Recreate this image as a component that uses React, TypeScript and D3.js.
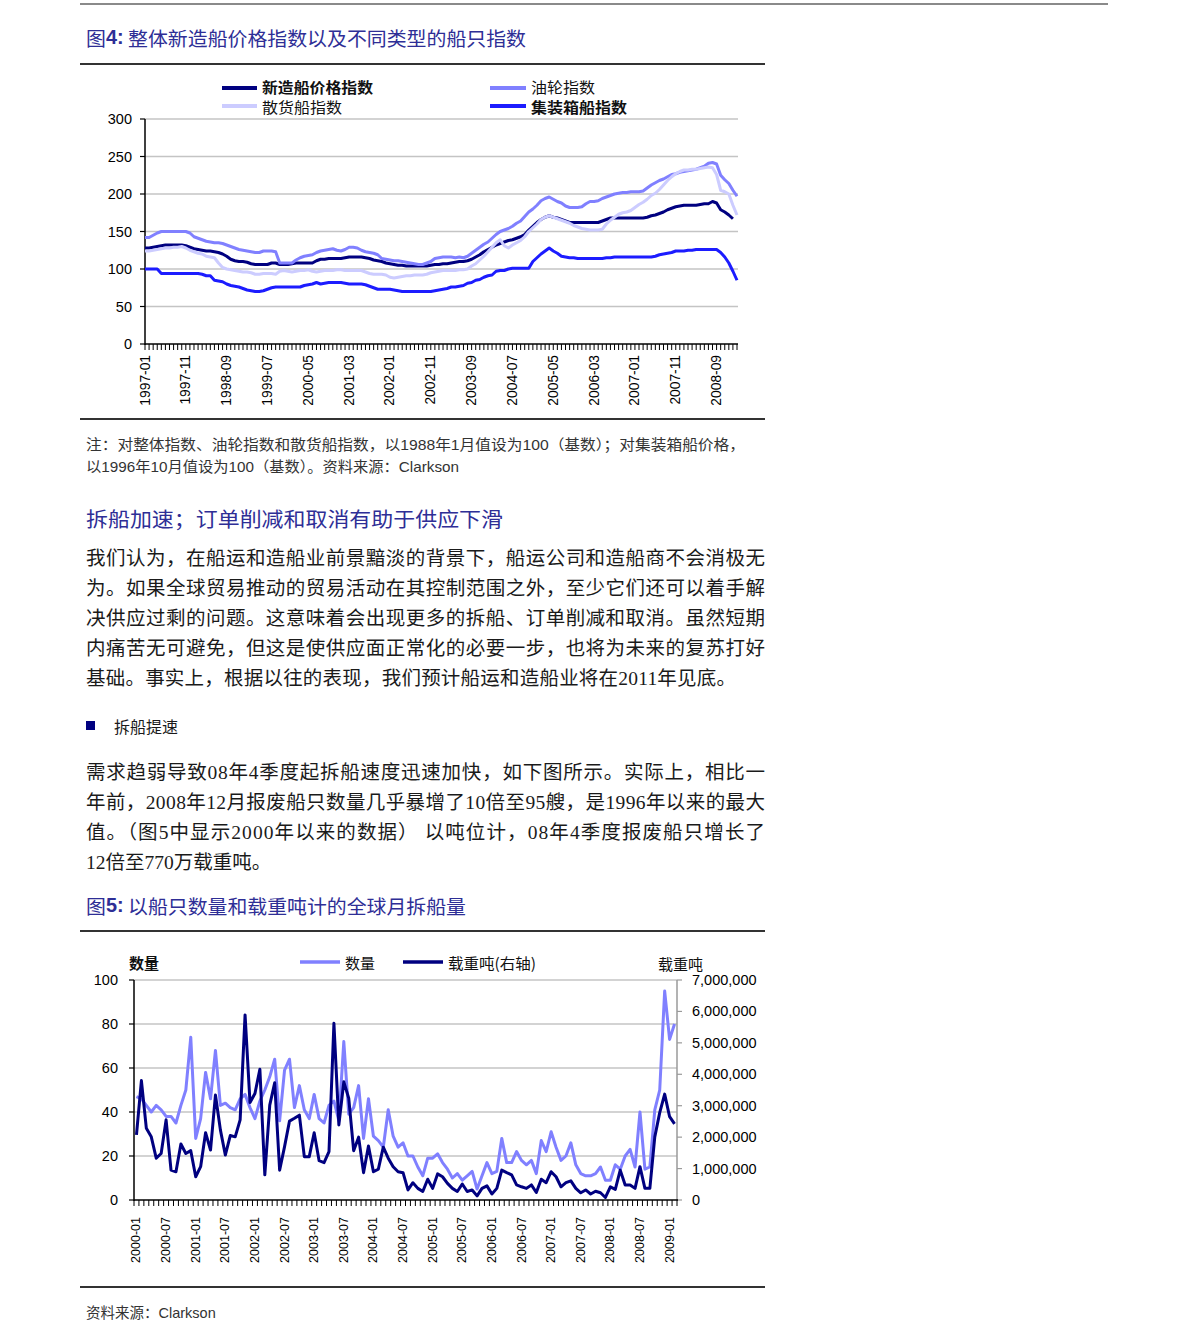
import React from 'react';
import * as d3 from 'd3';

// ---------- categories ----------
function monthSeq(y0: number, m0: number, n: number): string[] {
  const out: string[] = [];
  let y = y0, m = m0;
  for (let i = 0; i < n; i++) {
    out.push(`${y}-${String(m).padStart(2, '0')}`);
    m++; if (m > 12) { m = 1; y++; }
  }
  return out;
}
const months1 = monthSeq(1997, 1, 146); // 1997-01 .. 2009-02
const months2 = monthSeq(2000, 1, 110); // 2000-01 .. 2009-02

const chart1TickLabels = ['1997-01','1997-11','1998-09','1999-07','2000-05','2001-03','2002-01','2002-11','2003-09','2004-07','2005-05','2006-03','2007-01','2007-11','2008-09'];
const chart2TickLabels = ['2000-01','2000-07','2001-01','2001-07','2002-01','2002-07','2003-01','2003-07','2004-01','2004-07','2005-01','2005-07','2006-01','2006-07','2007-01','2007-07','2008-01','2008-07','2009-01'];
const chart1YTicks = [0, 50, 100, 150, 200, 250, 300];
const chart2LeftTicks = [0, 20, 40, 60, 80, 100];
const chart2RightTicks = [0, 1, 2, 3, 4, 5, 6, 7]; // millions

// ---------- chart 1 series (monthly, 1997-01 .. 2009-02) ----------
const newbuildIndex: (number | null)[] = [
  128,128,129,130,131,132,132,132,132,132,131,129,
  127,126,125,124,124,123,122,120,117,113,111,110,
  110,109,107,106,106,106,106,108,108,106,106,106,
  107,108,108,108,108,108,111,113,113,114,114,114,
  114,115,116,116,116,116,115,114,112,111,110,108,
  107,106,105,105,104,104,104,104,104,104,105,106,
  106,107,107,108,109,110,110,111,113,116,119,123,
  126,129,132,134,136,138,139,141,143,146,152,157,
  162,166,169,171,169,168,166,164,162,162,162,162,
  162,162,162,162,164,166,168,168,168,168,168,168,
  168,168,168,169,171,172,174,176,179,181,183,184,
  185,185,185,185,186,187,187,190,188,179,176,172,
  167,null,
];
const tankerIndex: number[] = [
  142,142,145,148,150,150,150,150,150,150,150,148,
  143,141,139,137,136,135,135,134,132,130,128,126,
  125,124,123,122,122,124,124,124,123,108,108,108,
  108,112,115,117,118,119,122,124,125,126,127,125,
  124,126,129,129,128,125,123,122,121,119,114,113,
  112,111,111,110,109,108,107,106,106,108,110,114,
  115,116,116,116,115,116,115,117,121,125,129,133,
  136,141,146,150,152,154,157,161,164,170,176,180,
  185,191,194,196,193,190,188,184,182,182,182,183,
  187,190,190,191,194,196,198,200,201,202,202,203,
  203,203,204,208,212,215,218,220,223,226,227,229,
  230,231,232,233,235,237,241,242,240,225,219,214,
  205,197,
];
const bulkIndex: number[] = [
  124,124,125,126,127,128,128,129,129,130,128,125,
  123,121,120,117,116,115,108,102,100,99,98,97,
  96,96,95,93,93,94,94,94,93,97,98,97,
  96,97,98,98,99,97,96,97,98,98,98,99,
  99,98,98,98,98,98,96,94,93,93,93,92,
  89,88,89,90,91,91,92,92,92,93,95,96,
  97,98,98,98,98,99,99,100,104,107,112,117,
  123,129,135,139,131,128,132,135,138,143,150,155,
  160,166,169,171,169,167,165,163,161,158,156,154,
  153,152,152,152,153,160,165,169,173,175,176,178,
  182,186,189,193,198,201,206,212,218,223,227,230,
  232,232,233,233,234,235,236,235,226,205,203,200,
  185,172,
];
const containerIndex: number[] = [
  100,100,100,100,94,94,94,94,94,94,94,94,
  94,94,93,91,91,85,84,83,80,78,77,76,
  74,72,71,70,70,71,73,75,76,76,76,76,
  76,76,76,78,79,80,82,80,81,82,82,82,
  82,81,80,80,80,80,79,77,75,73,73,73,
  73,72,71,70,70,70,70,70,70,70,70,71,
  72,73,74,76,76,77,78,81,82,85,86,89,
  91,92,97,98,98,100,101,101,101,101,101,110,
  115,120,124,128,124,121,117,116,115,115,114,114,
  114,114,114,114,114,115,115,116,116,116,116,116,
  116,116,116,116,116,117,119,120,121,122,124,124,
  124,125,125,126,126,126,126,126,126,122,116,108,
  97,85,
];

// ---------- chart 2 series (monthly, 2000-01 .. 2009-02) ----------
const scrapCount: number[] = [
  47,46,43,40,43,41,38,38,35,43,50,74,
  28,37,58,46,68,43,44,42,41,46,48,42,
  37,45,50,56,64,36,59,64,42,52,41,37,
  48,37,35,43,45,36,72,39,42,52,28,46,
  29,27,24,41,29,24,26,20,20,15,11,19,
  19,21,17,14,10,12,9,11,13,5,11,17,
  12,13,28,17,17,22,18,16,18,12,27,22,
  31,24,18,20,26,16,12,11,11,12,15,9,
  9,16,14,20,23,15,40,14,15,41,50,95,
  73,80,
];
const scrapDwtMillions: number[] = [
  2.07,3.80,2.28,2.01,1.33,1.48,2.55,0.95,0.90,1.78,1.48,1.57,
  0.74,1.06,2.14,1.59,3.34,2.23,1.43,2.05,2.01,2.55,5.89,3.10,
  3.39,4.16,0.80,3.02,3.73,0.95,1.70,2.51,2.60,2.70,1.38,1.38,
  2.14,1.25,1.19,1.54,5.62,2.39,3.76,3.24,1.57,2.00,0.87,1.72,
  0.90,0.98,1.68,1.33,1.06,0.90,0.87,0.32,0.55,0.37,0.27,0.66,
  0.37,0.83,0.74,0.53,0.37,0.27,0.51,0.27,0.32,0.13,0.37,0.45,
  0.19,0.37,0.95,0.87,0.80,0.48,0.42,0.37,0.48,0.24,0.66,0.55,
  0.90,0.74,0.42,0.55,0.61,0.37,0.23,0.32,0.19,0.28,0.23,0.08,
  0.42,0.34,0.95,0.48,0.48,0.37,1.06,0.37,0.37,2.01,2.78,3.37,
  2.65,2.42,
];

// ---------- text ----------
const para1 = [
  '我们认为，在船运和造船业前景黯淡的背景下，船运公司和造船商不会消极无',
  '为。如果全球贸易推动的贸易活动在其控制范围之外，至少它们还可以着手解',
  '决供应过剩的问题。这意味着会出现更多的拆船、订单削减和取消。虽然短期',
  '内痛苦无可避免，但这是使供应面正常化的必要一步，也将为未来的复苏打好',
  '基础。事实上，根据以往的表现，我们预计船运和造船业将在2011年见底。',
];
const para2 = [
  '需求趋弱导致08年4季度起拆船速度迅速加快，如下图所示。实际上，相比一',
  '年前，2008年12月报废船只数量几乎暴增了10倍至95艘，是1996年以来的最大',
  '值。（图5中显示2000年以来的数据） 以吨位计，08年4季度报废船只增长了',
  '12倍至770万载重吨。',
];

const CJK = "'Noto Sans CJK SC', sans-serif";
const NARROW = "'Liberation Sans Narrow', 'Liberation Sans', 'Noto Sans CJK SC', sans-serif";
const SANS = "'Liberation Sans', Arial, sans-serif";
const SERIF = "'Liberation Serif', 'Noto Sans CJK SC', serif";
const TITLE_BLUE = '#2e2e96';

const C_NEW = '#000080';
const C_TANK = '#8080ff';
const C_BULK = '#ccccff';
const C_CONT = '#1c1cff';

export default function App() {
  // chart 1 scales
  const x1 = d3.scalePoint<number>().domain(d3.range(months1.length)).range([145, 737]);
  const y1 = d3.scaleLinear().domain([0, 300]).range([344, 119]);
  const line1 = d3.line<number | null>()
    .defined((d) => d != null)
    .x((_, i) => x1(i) as number)
    .y((d) => y1(d as number));

  // chart 2 scales
  const x2 = d3.scaleBand<number>().domain(d3.range(months2.length)).range([134, 677]);
  const cx2 = (i: number) => (x2(i) as number) + x2.bandwidth() / 2;
  const yL = d3.scaleLinear().domain([0, 100]).range([1200, 980]);
  const yR = d3.scaleLinear().domain([0, 7]).range([1200, 980]);
  const lineCount = d3.line<number>().x((_, i) => cx2(i)).y((d) => yL(d));
  const lineDwt = d3.line<number>().x((_, i) => cx2(i)).y((d) => yR(d));
  const fmt = d3.format(',');

  const series1 = [
    { data: newbuildIndex, color: C_NEW },
    { data: tankerIndex, color: C_TANK },
    { data: bulkIndex, color: C_BULK },
    { data: containerIndex, color: C_CONT },
  ];

  return (
    <svg width={1191} height={1342} style={{ position: 'absolute', left: 0, top: 0, background: '#fff' }}
      xmlns="http://www.w3.org/2000/svg">
      <rect x={0} y={0} width={1191} height={1342} fill="#fff" />
      {/* top rule */}
      <line x1={80} x2={1108} y1={4} y2={4} stroke="#8a8a8a" strokeWidth={2} />

      {/* ---------- Figure 4 ---------- */}
      <text x={86} y={37} fontFamily={CJK} fontSize={19.5} fill={TITLE_BLUE} dominantBaseline="central"
        textLength={440} lengthAdjust="spacingAndGlyphs">
        图<tspan fontFamily={NARROW} fontWeight="bold">4:</tspan> 整体新造船价格指数以及不同类型的船只指数
      </text>
      <line x1={80} x2={765} y1={64} y2={64} stroke="#333" strokeWidth={2} />

      {/* legend */}
      <g fontFamily={CJK} fontSize={14.5} fill="#111">
        <line x1={222} x2={257} y1={88} y2={88} stroke={C_NEW} strokeWidth={4} />
        <text x={262} y={86} dominantBaseline="central" fontWeight="bold" textLength={111} lengthAdjust="spacingAndGlyphs">新造船价格指数</text>
        <line x1={222} x2={257} y1={106} y2={106} stroke={C_BULK} strokeWidth={4} />
        <text x={262} y={106} dominantBaseline="central" textLength={80} lengthAdjust="spacingAndGlyphs">散货船指数</text>
        <line x1={490} x2={526} y1={88} y2={88} stroke={C_TANK} strokeWidth={4} />
        <text x={531} y={86} dominantBaseline="central" textLength={64} lengthAdjust="spacingAndGlyphs">油轮指数</text>
        <line x1={490} x2={526} y1={106} y2={106} stroke={C_CONT} strokeWidth={4} />
        <text x={531} y={106} dominantBaseline="central" fontWeight="bold" textLength={96} lengthAdjust="spacingAndGlyphs">集装箱船指数</text>
      </g>

      {/* gridlines */}
      {chart1YTicks.filter((t) => t > 0).map((t) => (
        <line key={'g1' + t} x1={145} x2={738} y1={y1(t)} y2={y1(t)} stroke="#c4c4c4" strokeWidth={1.5} />
      ))}
      {/* y axis */}
      <line x1={145} x2={145} y1={119} y2={345} stroke="#000" strokeWidth={1.5} />
      {chart1YTicks.map((t) => (
        <g key={'yt1' + t}>
          <line x1={140} x2={145} y1={y1(t)} y2={y1(t)} stroke="#000" strokeWidth={1.2} />
          <text x={132} y={y1(t)} textAnchor="end" dominantBaseline="central" fontFamily={NARROW} fontSize={14.5} fill="#000">{t}</text>
        </g>
      ))}
      {/* x axis */}
      <line x1={145} x2={738} y1={344} y2={344} stroke="#000" strokeWidth={1.5} />
      {months1.map((m, i) => (
        <line key={'xt1' + m} x1={x1(i) as number} x2={x1(i) as number} y1={344} y2={350} stroke="#000" strokeWidth={1} />
      ))}
      {chart1TickLabels.map((lab) => {
        const xi = x1(months1.indexOf(lab)) as number;
        return (
          <text key={'xl1' + lab} transform={`translate(${xi},355) rotate(-90)`} textAnchor="end" dominantBaseline="central"
            fontFamily={SANS} fontSize={13.8} fill="#000">{lab}</text>
        );
      })}
      {/* lines */}
      {series1.map((s, k) => (
        <path key={'s1' + k} d={line1(s.data as (number | null)[]) || ''} fill="none" stroke={s.color} strokeWidth={3} strokeLinejoin="round" />
      ))}

      <line x1={80} x2={765} y1={419} y2={419} stroke="#333" strokeWidth={2} />
      <g fontFamily={NARROW} fontSize={14.5} fill="#333">
        <text x={86} y={445} dominantBaseline="central" textLength={659} lengthAdjust="spacingAndGlyphs">注：对整体指数、油轮指数和散货船指数，以1988年1月值设为100（基数）；对集装箱船价格，</text>
        <text x={86} y={467} dominantBaseline="central" textLength={373} lengthAdjust="spacingAndGlyphs">以1996年10月值设为100（基数）。资料来源：Clarkson</text>
      </g>

      {/* ---------- body text ---------- */}
      <text x={86} y={518} fontFamily={CJK} fontSize={20.5} fill={TITLE_BLUE} dominantBaseline="central"
        textLength={417} lengthAdjust="spacingAndGlyphs">拆船加速；订单削减和取消有助于供应下滑</text>
      <g fontFamily={SERIF} fontSize={19.5} fill="#1a1a1a">
        {para1.map((l, i) => (
          <text key={'p1' + i} x={86} y={558 + i * 30} dominantBaseline="central"
            textLength={i < para1.length - 1 ? 679 : 650} lengthAdjust="spacing">{l}</text>
        ))}
      </g>
      <rect x={86} y={721} width={9} height={9} fill="#000080" />
      <text x={114} y={726} fontFamily={CJK} fontSize={16} fill="#1a1a1a" dominantBaseline="central">拆船提速</text>
      <g fontFamily={SERIF} fontSize={19.5} fill="#1a1a1a">
        {para2.map((l, i) => (
          <text key={'p2' + i} x={86} y={772 + i * 30} dominantBaseline="central"
            {...(i < para2.length - 1 ? { textLength: 679, lengthAdjust: 'spacing' } : {})}>{l}</text>
        ))}
      </g>

      {/* ---------- Figure 5 ---------- */}
      <text x={86} y={905} fontFamily={CJK} fontSize={19.5} fill={TITLE_BLUE} dominantBaseline="central"
        textLength={380} lengthAdjust="spacingAndGlyphs">
        图<tspan fontFamily={NARROW} fontWeight="bold">5:</tspan> 以船只数量和载重吨计的全球月拆船量
      </text>
      <line x1={80} x2={765} y1={931} y2={931} stroke="#333" strokeWidth={2} />

      {/* legend & axis titles */}
      <g fontFamily={CJK} fontSize={15} fill="#111">
        <text x={129} y={962} dominantBaseline="central" fontWeight="bold">数量</text>
        <line x1={300} x2={340} y1={962} y2={962} stroke={C_TANK} strokeWidth={3.5} />
        <text x={345} y={962} dominantBaseline="central">数量</text>
        <line x1={403} x2={443} y1={962} y2={962} stroke={C_NEW} strokeWidth={3.5} />
        <text x={448} y={962} dominantBaseline="central" textLength={88} lengthAdjust="spacingAndGlyphs">载重吨(右轴)</text>
        <text x={658} y={963} dominantBaseline="central">载重吨</text>
      </g>

      {/* gridlines */}
      {chart2LeftTicks.filter((t) => t > 0).map((t) => (
        <line key={'g2' + t} x1={134} x2={677} y1={yL(t)} y2={yL(t)} stroke="#c4c4c4" strokeWidth={1.5} />
      ))}
      {/* left axis */}
      <line x1={134} x2={134} y1={980} y2={1201} stroke="#000" strokeWidth={1.5} />
      {chart2LeftTicks.map((t) => (
        <g key={'yl2' + t}>
          <line x1={129} x2={134} y1={yL(t)} y2={yL(t)} stroke="#000" strokeWidth={1.2} />
          <text x={118} y={yL(t)} textAnchor="end" dominantBaseline="central" fontFamily={NARROW} fontSize={14.5} fill="#000">{t}</text>
        </g>
      ))}
      {/* right axis */}
      <line x1={677} x2={677} y1={980} y2={1200} stroke="#9a9a9a" strokeWidth={1.5} />
      {chart2RightTicks.map((t) => (
        <g key={'yr2' + t}>
          <line x1={677} x2={682} y1={yR(t)} y2={yR(t)} stroke="#9a9a9a" strokeWidth={1.2} />
          <text x={692} y={yR(t)} textAnchor="start" dominantBaseline="central" fontFamily={NARROW} fontSize={14.5} fill="#000">{fmt(t * 1e6)}</text>
        </g>
      ))}
      {/* bottom axis */}
      <line x1={134} x2={678} y1={1200} y2={1200} stroke="#000" strokeWidth={1.5} />
      {d3.range(months2.length + 1).map((i) => {
        const xx = i < months2.length ? (x2(i) as number) : 677;
        return <line key={'xt2' + i} x1={xx} x2={xx} y1={1200} y2={1206} stroke="#000" strokeWidth={1} />;
      })}
      {chart2TickLabels.map((lab) => {
        const xi = cx2(months2.indexOf(lab));
        return (
          <text key={'xl2' + lab} transform={`translate(${xi},1217) rotate(-90)`} textAnchor="end" dominantBaseline="central"
            fontFamily={SANS} fontSize={12.5} fill="#000">{lab}</text>
        );
      })}
      <path d={lineCount(scrapCount) || ''} fill="none" stroke={C_TANK} strokeWidth={3} strokeLinejoin="round" />
      <path d={lineDwt(scrapDwtMillions) || ''} fill="none" stroke={C_NEW} strokeWidth={3} strokeLinejoin="round" />

      <line x1={80} x2={765} y1={1287} y2={1287} stroke="#333" strokeWidth={2} />
      <text x={86} y={1313} fontFamily={NARROW} fontSize={14.5} fill="#333" dominantBaseline="central">资料来源：Clarkson</text>
    </svg>
  );
}
